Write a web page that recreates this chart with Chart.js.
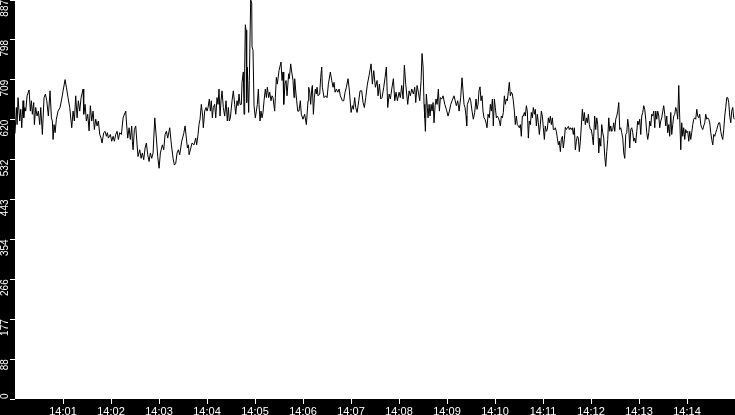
<!DOCTYPE html>
<html>
<head>
<meta charset="utf-8">
<title>Samples 14:00 - 14:15</title>
<script src="https://cdn.jsdelivr.net/npm/chart.js@4.4.1/dist/chart.umd.min.js"></script>
<style>
  html, body { margin: 0; padding: 0; background: #000; overflow: hidden; }
  canvas { display: block; }
</style>
</head>
<body>
<canvas id="chart" width="735" height="415"></canvas>
<script>
// seconds after 14:00:00
const times = [
  0,1.7,2.6,3.8,5.9,7.2,8.4,10.1,10.9,12.2,13.4,15.1,17.6,19.2,20.5,21.7,23.4,24.2,25.9,27.6,
  29.2,30.9,32.2,34.2,36.3,38.0,39.7,41.7,43.8,45.5,46.7,47.6,48.8,50.1,51.7,53.8,56.3,58.4,60.1,62.6,
  64.2,66.3,68.4,70.9,72.6,74.2,75.9,77.6,79.2,80.9,82.6,85.1,85.9,87.6,89.2,90.9,92.6,94.2,95.9,97.6,
  99.2,100.9,102.6,104.2,105.9,107.6,108.8,110.9,112.6,114.2,115.5,116.7,119.2,120.9,122.6,124.2,125.9,127.6,129.2,130.9,
  133.0,135.1,137.6,138.4,139.2,140.9,142.6,144.2,145.9,146.7,147.6,149.2,150.9,152.6,153.8,155.9,157.6,159.2,160.9,162.6,
  164.2,165.9,167.6,169.2,170.9,172.6,174.7,176.7,178.4,180.1,181.7,184.2,185.9,187.6,189.2,190.9,193.4,195.5,197.6,199.2,
  200.9,202.6,204.2,205.9,208.4,210.9,212.6,214.2,215.5,216.8,217.6,
  221.3,223.8,225.9,227.1,228.8,230.0,231.3,232.9,234.6,235.4,237.1,238.8,240.0,241.3,242.9,244.2,245.4,246.7,247.9,249.6,
  250.9,252.5,253.8,255.0,256.3,257.5,258.8,260.4,262.1,263.8,265.4,266.7,267.9,269.2,271.3,272.9,274.6,275.9,277.5,278.8,
  280.0,281.3,282.9,283.8,285.4,286.3,287.1,287.9,288.8,289.6,290.4,292.1,292.9,294.6,295.9,296.3,297.5,298.8,300.4,301.7,
  302.9,304.2,305.0,306.3,307.5,308.8,310.0,311.3,312.9,314.2,315.4,317.1,318.4,320.0,321.3,322.5,324.6,325.4,326.7,327.9,
  330.0,332.5,333.8,335.0,335.9,337.5,338.8,340.0,342.1,342.9,344.6,345.9,347.5,348.8,349.6,350.9,352.1,353.4,355.0,356.7,
  357.9,360.0,362.1,364.2,366.3,367.1,368.4,369.6,370.9,371.7,373.0,374.2,375.4,376.7,377.5,378.8,380.9,382.1,383.4,384.2,
  386.3,
  388.4,390.1,391.7,394.2,395.9,397.6,398.8,400.1,401.7,403.4,405.1,406.7,409.2,410.9,412.6,414.2,416.3,418.0,420.1,421.7,
  423.0,424.6,425.9,427.6,429.7,431.3,433.4,435.1,436.7,438.4,440.5,442.6,445.1,446.7,448.4,450.5,452.6,453.8,455.5,457.2,
  458.8,460.9,462.6,464.2,465.9,467.6,469.2,470.9,473.0,474.7,476.3,478.0,480.1,481.7,483.4,485.1,486.7,488.4,490.9,492.6,
  494.2,495.9,498.0,499.7,500.9,502.6,504.2,505.9,507.6,508.8,510.1,511.3,512.2,513.0,514.2,515.5,516.3,517.6,518.8,520.1,
  521.3,522.6,523.8,525.1,526.3,527.6,529.2,530.5,531.7,533.4,535.1,537.2,539.2,541.3,543.0,544.7,546.3,548.8,551.7,553.4,
  555.1,
  557.1,558.8,560.0,561.3,562.5,563.8,564.6,565.4,567.1,568.4,569.6,571.3,572.9,574.6,576.3,577.5,578.8,580.0,581.3,582.5,
  583.8,585.0,586.3,587.5,588.8,590.0,591.3,592.9,594.2,595.4,596.7,597.9,599.2,600.4,601.7,602.9,604.2,605.4,606.7,607.9,
  609.2,610.4,611.7,612.9,614.2,615.4,616.7,617.9,619.2,620.4,621.7,622.9,624.2,625.4,626.7,627.9,629.2,630.4,631.7,632.9,
  634.2,635.4,636.7,637.9,639.2,640.4,641.7,642.9,644.2,645.4,646.7,647.9,649.2,650.4,651.7,652.9,654.2,655.4,656.7,657.9,
  659.2,660.4,661.7,662.9,664.2,665.4,666.7,667.9,669.2,670.4,671.7,672.9,674.2,675.4,676.7,677.9,679.2,680.4,681.7,682.9,
  684.2,685.4,686.7,687.9,689.2,690.4,691.7,692.9,694.2,695.4,696.7,697.9,699.2,700.4,701.7,702.9,704.2,705.4,706.7,707.9,
  709.2,710.4,711.7,712.9,714.2,715.4,716.7,717.9,719.2,720.4,721.7,722.9,
  724.6,725.9,727.2,728.4,729.7,730.9,732.2,733.4,734.7,735.9,737.2,738.4,739.7,740.9,742.2,743.4,744.7,745.9,747.2,748.4,
  749.7,750.9,752.2,753.4,754.7,755.9,757.2,758.4,759.7,760.9,762.2,763.4,764.7,765.9,767.2,768.4,769.7,770.9,772.2,773.4,
  774.7,775.9,777.2,778.4,779.7,780.9,782.2,783.4,784.7,785.9,787.2,788.4,789.7,790.9,792.2,793.4,794.7,795.9,797.2,798.4,
  799.7,800.9,802.2,803.4,804.7,805.9,807.2,808.4,809.7,810.9,812.2,813.4,814.7,815.9,817.2,818.4,819.7,820.9,822.2,823.4,
  824.7,825.9,827.2,828.4,829.7,830.9,832.2,833.4,834.7,835.9,837.2,838.4,839.7,840.9,842.2,843.4,844.7,845.9,847.2,848.4,
  849.7,850.9,852.2,853.4,854.7,855.9,857.2,858.4,859.7,860.9,862.2,863.4,864.7,865.9,867.2,868.4,869.7,870.9,872.2,873.4,
  874.7,875.9,877.2,878.4,879.7,880.9,882.2,883.4,884.7,885.9,887.2,888.4,889.7,890.9,892.2,893.4,894.7,895.9,897.2,898.4,
  899.2
];

const values = [
  590,648,610,670,618,644,603,663,625,648,640,674,687,640,663,633,659,610,648,629,
  640,610,648,588,670,678,663,629,685,625,618,577,610,592,622,640,648,667,685,710,
  693,670,648,603,640,618,674,625,663,640,670,689,633,655,618,633,596,652,618,640,
  599,622,607,618,588,580,569,592,595,584,592,580,588,573,584,573,588,595,577,592,
  588,625,637,640,618,580,603,577,607,573,554,599,607,565,539,554,535,547,532,558,
  569,543,528,547,535,547,625,580,539,513,547,565,554,588,595,580,603,565,535,520,
  524,547,554,543,573,590,607,580,558,565,543,
  569,565,580,565,588,610,622,655,629,603,640,648,640,648,667,640,663,625,648,655,
  625,670,655,689,629,663,685,648,629,663,618,648,618,625,663,685,655,633,663,652,
  678,655,655,704,727,633,734,832,820,659,738,637,708,887,880,783,775,652,625,640,
  655,689,655,618,640,625,637,663,689,670,693,670,682,663,674,670,640,670,715,700,
  730,749,708,727,655,700,708,674,723,712,745,727,708,670,712,685,663,640,640,663,
  633,622,633,610,663,693,682,655,689,697,633,670,689,678,693,674,678,715,738,693,
  670,
  674,670,700,727,708,693,704,682,689,682,689,674,663,663,682,693,712,685,637,652,
  644,670,648,637,663,685,685,659,648,670,700,719,745,700,730,693,708,674,700,667,
  670,693,715,738,648,678,667,689,712,663,682,663,682,670,697,667,742,700,655,685,
  674,689,678,693,659,697,682,663,708,768,738,655,625,595,678,648,625,655,629,655,
  640,659,614,652,667,655,689,640,670,667,674,655,644,629,640,655,663,674,652,663,
  640,
  670,714,685,655,648,629,607,655,663,670,663,640,622,637,667,644,655,685,694,663,
  674,640,625,622,614,603,633,625,655,640,667,607,667,648,625,629,625,618,607,629,
  625,637,674,655,667,663,684,704,674,682,678,663,640,610,629,610,607,603,610,584,
  629,629,637,629,652,640,580,618,610,637,625,648,633,644,607,633,614,588,610,640,
  629,603,577,607,595,599,625,614,629,610,625,599,599,603,595,580,565,573,550,577,
  584,558,577,604,599,603,606,599,603,599,603,588,603,554,573,584,580,550,573,607,
  644,618,637,610,625,614,633,610,599,599,584,565,
  629,599,625,610,547,580,562,610,592,580,539,517,550,577,625,595,607,595,599,614,
  595,622,629,640,659,599,603,592,580,547,535,588,592,622,603,558,599,603,592,573,
  580,569,595,618,610,622,588,629,637,652,644,622,592,577,592,618,607,633,629,640,
  603,640,622,640,629,603,618,625,640,652,633,607,629,592,610,584,637,588,610,629,
  633,648,640,622,697,625,554,614,584,603,577,599,592,595,573,595,577,592,610,622,
  625,622,644,629,625,633,610,603,599,607,614,633,622,625,622,614,592,577,565,588,
  584,592,599,607,614,614,595,584,577,599,629,648,670,670,659,629,614,640,648,625,
  622
];

const xTickValues = [60, 120, 180, 240, 300, 360, 420, 480, 540, 600, 660, 720, 780, 840];
const xTickLabels = ["14:01", "14:02", "14:03", "14:04", "14:05", "14:06", "14:07",
                     "14:08", "14:09", "14:10", "14:11", "14:12", "14:13", "14:14"];
const yTickValues = [0, 88.7, 177.4, 266.1, 354.8, 443.5, 532.2, 620.9, 709.6, 798.3, 887];
const yTickLabels = ["0", "88", "177", "266", "354", "443", "532", "620", "709", "798", "887"];

// black frame, white plot area
const backdrop = {
  id: "backdrop",
  beforeDraw(chart) {
    const { ctx, chartArea: a, width, height } = chart;
    ctx.save();
    ctx.fillStyle = "#000";
    ctx.fillRect(0, 0, width, height);
    ctx.fillStyle = "#fff";
    ctx.fillRect(a.left, a.top, a.right - a.left, a.bottom - a.top);
    ctx.restore();
  },
};

// rotated y labels, hanging below their tick (the bottom one sits above it)
const yLabels = {
  id: "yLabels",
  afterDraw(chart) {
    const s = chart.scales.y, ctx = chart.ctx;
    ctx.save();
    ctx.fillStyle = "#fff";
    ctx.font = '10px "Liberation Sans", Arial, sans-serif';
    ctx.textBaseline = "middle";
    s.ticks.forEach((t, i) => {
      const y = s.getPixelForValue(t.value);
      ctx.save();
      ctx.translate(s.right - 10, y);
      ctx.rotate(-Math.PI / 2);
      ctx.textAlign = i === 0 ? "left" : "right";
      ctx.fillText(yTickLabels[i], 0, 0);
      ctx.restore();
    });
    ctx.restore();
  },
};

const points = times.map((t, i) => ({ x: t, y: values[i] }));

new Chart(document.getElementById("chart").getContext("2d"), {
  type: "line",
  data: {
    datasets: [{
      data: points,
      borderColor: "#000",
      borderWidth: 1,
      pointRadius: 0,
      tension: 0,
      fill: false,
    }],
  },
  options: {
    responsive: false,
    animation: false,
    events: [],
    layout: { padding: 0 },
    plugins: { legend: { display: false }, tooltip: { enabled: false } },
    scales: {
      x: {
        type: "linear",
        min: 0, max: 900,
        afterBuildTicks: (s) => { s.ticks = xTickValues.map((v) => ({ value: v })); },
        afterFit: (s) => { s.height = 16; s.paddingLeft = 0; s.paddingRight = 0; },
        ticks: {
          color: "#fff",
          font: { family: '"Liberation Sans", Arial, sans-serif', size: 11 },
          autoSkip: false, maxRotation: 0, minRotation: 0, padding: 1,
          callback: (v, i) => xTickLabels[i],
        },
        grid: { drawOnChartArea: false, color: "#fff", tickLength: 5 },
        border: { display: false },
      },
      y: {
        min: 0, max: 887,
        afterBuildTicks: (s) => { s.ticks = yTickValues.map((v) => ({ value: v })); },
        afterFit: (s) => { s.width = 15; s.paddingTop = 0; s.paddingBottom = 0; },
        ticks: { display: false },
        grid: { drawOnChartArea: false, color: "#fff", tickLength: 5 },
        border: { display: false },
      },
    },
  },
  plugins: [backdrop, yLabels],
});
</script>
</body>
</html>
